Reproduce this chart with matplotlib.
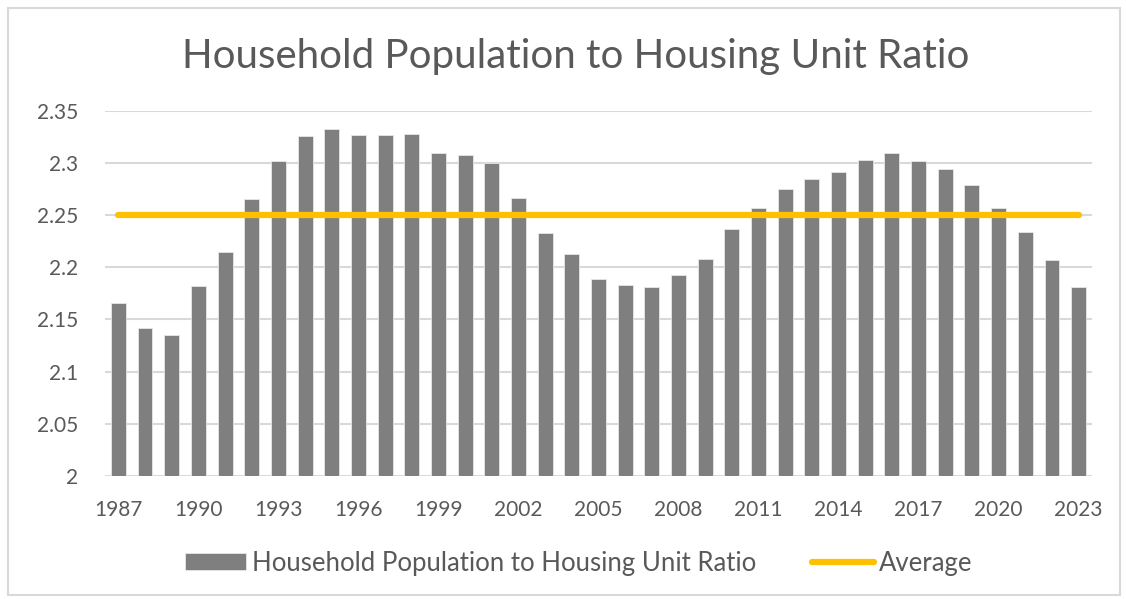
import matplotlib
matplotlib.use("Agg")
import matplotlib.pyplot as plt
from matplotlib.patches import Rectangle
from matplotlib.ticker import FuncFormatter

# Data
years = list(range(1987, 2024))
ratio = [2.166, 2.142, 2.135, 2.182, 2.215, 2.265, 2.302, 2.326, 2.332, 2.327,
         2.327, 2.328, 2.309, 2.308, 2.300, 2.266, 2.233, 2.213, 2.189, 2.183,
         2.181, 2.193, 2.208, 2.237, 2.257, 2.275, 2.285, 2.291, 2.303, 2.309,
         2.302, 2.294, 2.279, 2.257, 2.234, 2.207, 2.181]
average = [2.25] * len(years)

title = "Household Population to Housing Unit Ratio"
bar_label = "Household Population to Housing Unit Ratio"
line_label = "Average"

bar_color = "#7F7F7F"
avg_color = "#FFC000"
grid_color = "#D9D9D9"
text_color = "#595959"

plt.rcParams['font.family'] = ['Lato', 'DejaVu Sans']

fig = plt.figure(figsize=(11.26, 5.99), dpi=100)
ax = fig.add_axes([105 / 1126, 123 / 599, 987 / 1126, 365.3 / 599])

x = list(range(len(years)))
bars = ax.bar(x, ratio, width=0.56, color=bar_color, edgecolor="#E6E6E6",
              linewidth=0.6, zorder=2, label=bar_label)
line, = ax.plot(x, average, color=avg_color, linewidth=4.5,
                solid_capstyle="round", zorder=3, label=line_label)

ax.set_xlim(-0.5, len(years) - 0.5)
ax.set_ylim(2.0, 2.35)
ax.set_yticks([2.0, 2.05, 2.1, 2.15, 2.2, 2.25, 2.3, 2.35])
ax.yaxis.set_major_formatter(FuncFormatter(lambda v, p: "{:g}".format(round(v, 2))))
ax.set_xticks(x[::3])
ax.set_xticklabels([str(y) for y in years[::3]])

ax.grid(axis="y", color=grid_color, linewidth=1.5, zorder=0)
ax.set_axisbelow(True)
for s in ax.spines.values():
    s.set_visible(False)
ax.tick_params(axis="both", length=0, labelsize=15, colors=text_color)
ax.tick_params(axis="x", pad=17)
ax.tick_params(axis="y", pad=19)

fig.text(0.511, 0.905, title, ha="center", va="center", fontsize=29,
         color=text_color)

fig.legend([bars, line], [bar_label, line_label], loc="center",
           bbox_to_anchor=(0.514, 0.06), ncol=2, frameon=False, fontsize=18.5,
           labelcolor=text_color, handlelength=2.4, handleheight=0.6,
           handletextpad=0.2, columnspacing=2.2)

# light chart border
fig.patches.append(Rectangle((8 / 1126, 4 / 599), 1112 / 1126, 587 / 599,
                             transform=fig.transFigure, fill=False,
                             edgecolor=grid_color, linewidth=1.5))

fig.savefig("out.png", dpi=100)
